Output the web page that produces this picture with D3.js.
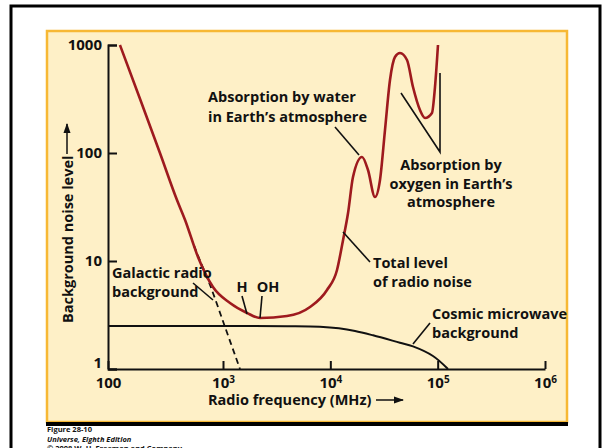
<html>
<head>
<script src="https://cdnjs.cloudflare.com/ajax/libs/d3/7.8.5/d3.min.js"></script>
<style>
  body { margin: 0; background: #fff; }
  text { font-family: "Open Sans", sans-serif; font-weight: 700; fill: #111; }
</style>
</head>
<body>
<svg width="606" height="448"></svg>
<script>
// total radio noise (MHz, relative level)
var totalFreq  = [127, 190, 283, 398, 468, 606, 818, 1162, 1675, 2213, 3945, 6470, 9310, 11540, 13130, 14620, 16260,
                  19720, 22430, 26070, 29020, 32300, 35960, 40010, 44550, 51780, 58900, 68420, 76200, 88500, 94400, 100700];
var totalLevel = [1000, 316, 100, 36.7, 24, 10.9, 5.74, 4.08, 3.30, 2.97, 3.09, 3.75, 5.39, 8.26, 15.6, 27.8, 59.9,
                  91.8, 69.6, 39.1, 56.2, 163, 474, 774, 843, 726, 408, 250, 211, 235, 408, 1000];

// galactic radio background (dashed)
var galFreq  = [560, 606, 771, 1044, 1440];
var galLevel = [13.9, 11.2, 6.0, 2.45, 1.0];

// cosmic microwave background
var cmbFreq  = [100, 1000, 4000, 8000, 12000, 17000, 25000, 44500, 58900, 90400, 124800];
var cmbLevel = [2.5, 2.5, 2.49, 2.46, 2.38, 2.25, 2.05, 1.75, 1.62, 1.32, 1.0];

var xTicks = [100, 1e3, 1e4, 1e5, 1e6];
var xTickLabels = ["100", "10|3", "10|4", "10|5", "10|6"];
var yTicks = [1, 10, 100, 1000];
var yTickLabels = ["1", "10", "100", "1000"];

var svg = d3.select("svg");

// outer frame
svg.append("rect").attr("x", 11).attr("y", 6).attr("width", 589).attr("height", 470)
   .attr("fill", "#fff").attr("stroke", "#000").attr("stroke-width", 3);

// panel
svg.append("rect").attr("x", 47).attr("y", 31).attr("width", 520).attr("height", 391)
   .attr("fill", "#fef0c7").attr("stroke", "#f7b834").attr("stroke-width", 2.5);
svg.append("line").attr("x1", 46).attr("x2", 568).attr("y1", 424).attr("y2", 424)
   .attr("stroke", "#000").attr("stroke-width", 4);

var x = d3.scaleLog().domain([100, 1000, 1e6]).range([108, 223, 545]);
var y = d3.scaleLog().domain([1, 1000]).range([369, 45]);

svg.append("defs").append("marker").attr("id", "arr")
   .attr("viewBox", "0 0 10 10").attr("refX", 9).attr("refY", 5)
   .attr("markerWidth", 7).attr("markerHeight", 7).attr("orient", "auto")
   .append("path").attr("d", "M0,1.5L10,5L0,8.5Z").attr("fill", "#111");

// axes
var xAxis = svg.append("g").attr("transform", "translate(0,369)")
  .call(d3.axisBottom(x).tickValues(xTicks).tickSizeInner(-8).tickSizeOuter(0).tickPadding(8)
        .tickFormat(function() { return ""; }));
xAxis.selectAll(".tick text").each(function(d, i) {
  var parts = xTickLabels[i].split("|");
  var t = d3.select(this).text(parts[0]);
  if (parts[1]) t.append("tspan").attr("dy", "-0.45em").attr("font-size", "10px").text(parts[1]);
});
xAxis.selectAll("text").attr("font-size", "15px").attr("font-family", "Open Sans").attr("font-weight", 700).attr("fill", "#111");
xAxis.selectAll("tspan").attr("font-size", "10px");

var yAxis = svg.append("g").attr("transform", "translate(108,0)")
  .call(d3.axisLeft(y).tickValues(yTicks).tickSizeInner(-9).tickSizeOuter(-9).tickPadding(6)
        .tickFormat(function(d, i) { return yTickLabels[i]; }));
yAxis.selectAll("text").attr("font-size", "15px").attr("font-family", "Open Sans").attr("font-weight", 700).attr("fill", "#111");
yAxis.selectAll(".tick text").filter(function(d) { return d === 1; }).attr("dy", "-0.1em");

svg.selectAll(".domain, .tick line").attr("stroke", "#111").attr("stroke-width", 2);

// curves
var line = d3.line().x(function(d) { return x(d[0]); }).y(function(d) { return y(d[1]); })
  .curve(d3.curveMonotoneX);
var smooth = d3.line().x(function(d) { return x(d[0]); }).y(function(d) { return y(d[1]); })
  .curve(d3.curveCatmullRom.alpha(0.5));

svg.append("path").datum(d3.zip(galFreq, galLevel)).attr("d", smooth)
   .attr("fill", "none").attr("stroke", "#111").attr("stroke-width", 1.8).attr("stroke-dasharray", "6,4");
svg.append("path").datum(d3.zip(cmbFreq, cmbLevel)).attr("d", smooth)
   .attr("fill", "none").attr("stroke", "#111").attr("stroke-width", 2);
svg.append("path").datum(d3.zip(totalFreq, totalLevel)).attr("d", line)
   .attr("fill", "none").attr("stroke", "#9e1a1e").attr("stroke-width", 2.6);

// axis titles
svg.append("text").attr("x", 208).attr("y", 405).attr("font-size", "14.5px").text("Radio frequency (MHz)");
svg.append("line").attr("x1", 376).attr("x2", 403).attr("y1", 400).attr("y2", 400)
   .attr("stroke", "#111").attr("stroke-width", 1.5).attr("marker-end", "url(#arr)");
svg.append("text").attr("transform", "translate(73,323) rotate(-90)").attr("font-size", "14.5px")
   .text("Background noise level");
svg.append("line").attr("x1", 67).attr("x2", 67).attr("y1", 154).attr("y2", 124)
   .attr("stroke", "#111").attr("stroke-width", 1.5).attr("marker-end", "url(#arr)");

// annotations
function label(lines, tx, ty, anchor, lh) {
  var t = svg.append("text").attr("font-size", "14.5px").attr("text-anchor", anchor || "start");
  lines.forEach(function(s, i) {
    t.append("tspan").attr("x", tx).attr("y", ty + i * (lh || 20)).text(s);
  });
}
function leader(pts) {
  svg.append("path").attr("d", d3.line()(pts)).attr("fill", "none")
     .attr("stroke", "#111").attr("stroke-width", 1.6);
}

label(["Absorption by water", "in Earth\u2019s atmosphere"], 208, 102);
leader([[335, 127], [359, 155]]);

label(["Absorption by", "oxygen in Earth\u2019s", "atmosphere"], 451, 170, "middle", 18.5);
leader([[401, 93], [440, 152], [440, 73]]);

label(["Total level", "of radio noise"], 373, 268, "start", 19);
leader([[343, 232], [370, 262]]);

label(["H"], 242, 292, "middle");
label(["OH"], 268, 292, "middle");
leader([[242, 296], [247, 314]]);
leader([[262, 296], [260, 318]]);

label(["Cosmic microwave", "background"], 432, 319, "start", 19);
leader([[430, 323], [413, 344]]);

label(["Galactic radio", "background"], 112, 278, "start", 19);
leader([[193, 283], [213, 300]]);

// caption
svg.append("text").attr("x", 47).attr("y", 432).attr("font-size", "7.5px").text("Figure 28-10");
svg.append("text").attr("x", 47).attr("y", 441.5).attr("font-size", "7.5px").attr("font-style", "italic")
   .text("Universe, Eighth Edition");
svg.append("text").attr("x", 47).attr("y", 451).attr("font-size", "7.5px").attr("font-weight", 400)
   .text("\u00a9 2008 W. H. Freeman and Company");
</script>
</body>
</html>
